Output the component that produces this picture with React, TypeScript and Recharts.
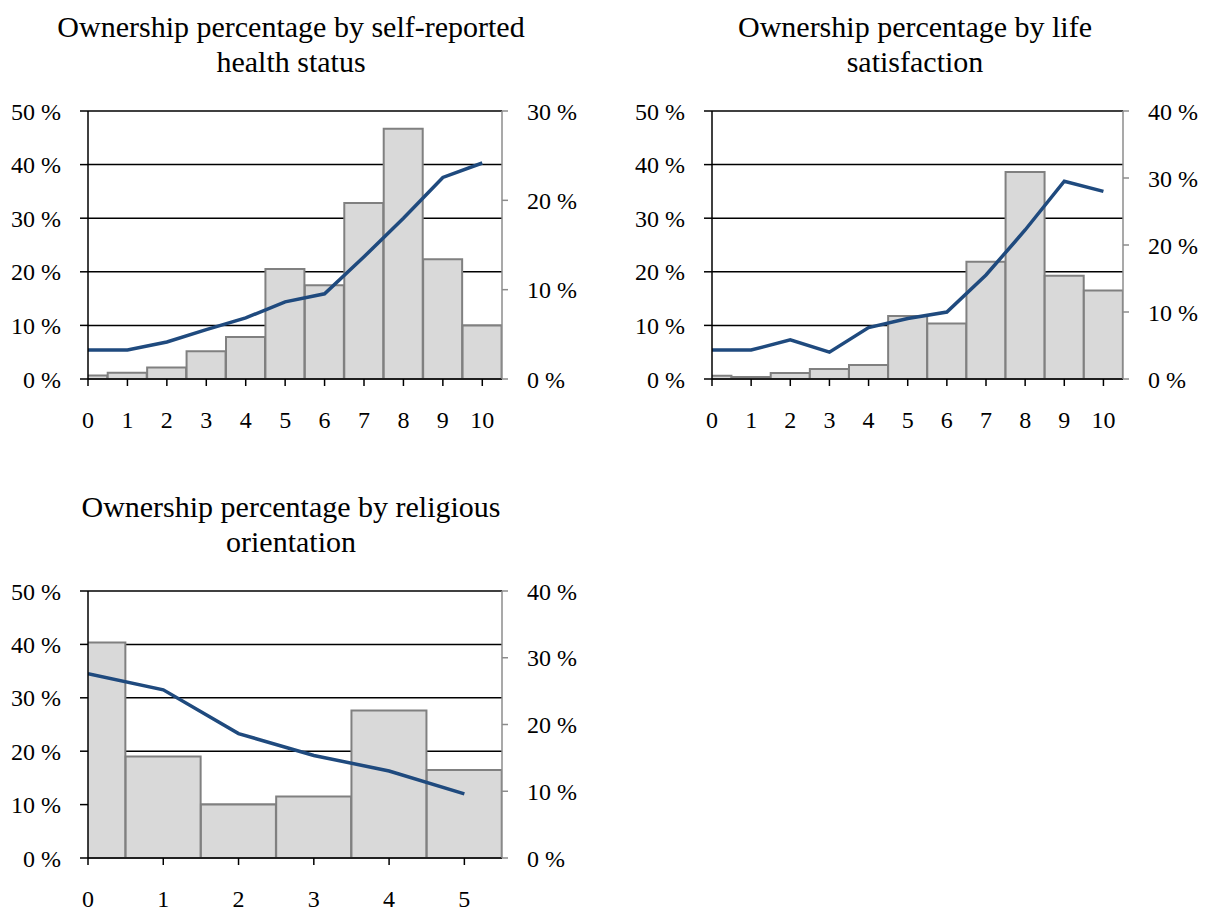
import { ComposedChart, Bar, Line, XAxis, YAxis, CartesianGrid } from 'recharts';

// score categories and the two series per panel (values in %)
const healthScores = [0, 1, 2, 3, 4, 5, 6, 7, 8, 9, 10];
const healthShare = [0.4, 0.7, 1.3, 3.1, 4.7, 12.3, 10.5, 19.7, 28.0, 13.4, 6.0];
const healthOwnership = [5.4, 5.4, 6.9, 9.2, 11.4, 14.4, 15.9, 22.8, 30.0, 37.6, 40.3];

const lifeScores = [0, 1, 2, 3, 4, 5, 6, 7, 8, 9, 10];
const lifeShare = [0.5, 0.3, 0.9, 1.5, 2.1, 9.4, 8.3, 17.5, 30.9, 15.4, 13.2];
const lifeOwnership = [5.4, 5.4, 7.3, 5.0, 9.6, 11.3, 12.5, 19.4, 27.8, 36.9, 35.0];

const religionScores = [0, 1, 2, 3, 4, 5];
const religionShare = [32.3, 15.2, 8.0, 9.2, 22.1, 13.2];
const religionOwnership = [34.5, 31.5, 23.3, 19.2, 16.3, 12.0];

const leftTicks = [0, 10, 20, 30, 40, 50];
const rightTicks30 = [0, 10, 20, 30];
const rightTicks40 = [0, 10, 20, 30, 40];

const FONT = '"Liberation Serif", "Times New Roman", serif';
const tickStyle = { fill: '#000', fontSize: 24, fontFamily: FONT };
const pct = (v: number) => `${v} %`;

interface PanelProps {
  title: string[];
  scores: number[];
  share: number[];
  ownership: number[];
  rightTicks: number[];
  x: number;
  y: number;
  width: number;
  plotHeight: number;
}

function Panel({ title, scores, share, ownership, rightTicks, x, y, width, plotHeight }: PanelProps) {
  const data = scores.map((score, i) => ({ score, share: share[i], owned: ownership[i] }));
  const last = scores[scores.length - 1];
  const marginTop = 21;
  const axisHeight = 62;

  return (
    <div style={{ position: 'absolute', left: x, top: y }}>
      <div
        style={{
          position: 'absolute',
          left: 0,
          top: -81,
          width: 582,
          textAlign: 'center',
          fontFamily: FONT,
          fontSize: 30,
          lineHeight: '35px',
          color: '#000',
          whiteSpace: 'nowrap',
        }}
      >
        {title.map((t) => (
          <div key={t}>{t}</div>
        ))}
      </div>
      <ComposedChart
        width={width}
        height={marginTop + plotHeight + axisHeight}
        data={data}
        margin={{ top: marginTop, right: 0, bottom: 0, left: 0 }}
        barCategoryGap={0}
        barGap={0}
      >
        <CartesianGrid yAxisId="left" vertical={false} stroke="#000" strokeWidth={1.5} />
        <XAxis
          dataKey="score"
          type="number"
          domain={[0, last + 0.5]}
          ticks={scores}
          interval={0}
          allowDataOverflow
          height={axisHeight}
          tickSize={7}
          tickMargin={25}
          tick={tickStyle}
          axisLine={{ stroke: '#000', strokeWidth: 1.5 }}
          tickLine={{ stroke: '#000', strokeWidth: 1.5 }}
        />
        <YAxis
          yAxisId="left"
          domain={[0, 50]}
          ticks={leftTicks}
          interval={0}
          width={88}
          tickSize={8}
          tickMargin={19}
          tickFormatter={pct}
          tick={tickStyle}
          axisLine={{ stroke: '#000', strokeWidth: 1.5 }}
          tickLine={{ stroke: '#000', strokeWidth: 1.5 }}
        />
        <YAxis
          yAxisId="right"
          orientation="right"
          domain={[0, rightTicks[rightTicks.length - 1]]}
          ticks={rightTicks}
          interval={0}
          width={98}
          tickSize={6}
          tickMargin={19}
          tickFormatter={pct}
          tick={tickStyle}
          axisLine={{ stroke: '#8c8c8c', strokeWidth: 1.5 }}
          tickLine={{ stroke: '#8c8c8c', strokeWidth: 1.5 }}
        />
        <Bar
          yAxisId="right"
          dataKey="share"
          fill="#d9d9d9"
          stroke="#808080"
          strokeWidth={2}
          isAnimationActive={false}
        />
        <Line
          yAxisId="left"
          dataKey="owned"
          type="linear"
          stroke="#1f4a7e"
          strokeWidth={3.5}
          dot={false}
          isAnimationActive={false}
        />
      </ComposedChart>
    </div>
  );
}

export default function App() {
  return (
    <div style={{ position: 'absolute', left: 0, top: 0, width: 1207, height: 909, background: '#fff' }}>
      <Panel
        title={['Ownership percentage by self-reported', 'health status']}
        scores={healthScores}
        share={healthShare}
        ownership={healthOwnership}
        rightTicks={rightTicks30}
        x={0}
        y={90}
        width={600}
        plotHeight={268}
      />
      <Panel
        title={['Ownership percentage by life', 'satisfaction']}
        scores={lifeScores}
        share={lifeShare}
        ownership={lifeOwnership}
        rightTicks={rightTicks40}
        x={624}
        y={90}
        width={597}
        plotHeight={268}
      />
      <Panel
        title={['Ownership percentage by religious', 'orientation']}
        scores={religionScores}
        share={religionShare}
        ownership={religionOwnership}
        rightTicks={rightTicks40}
        x={0}
        y={570}
        width={600}
        plotHeight={267}
      />
    </div>
  );
}
